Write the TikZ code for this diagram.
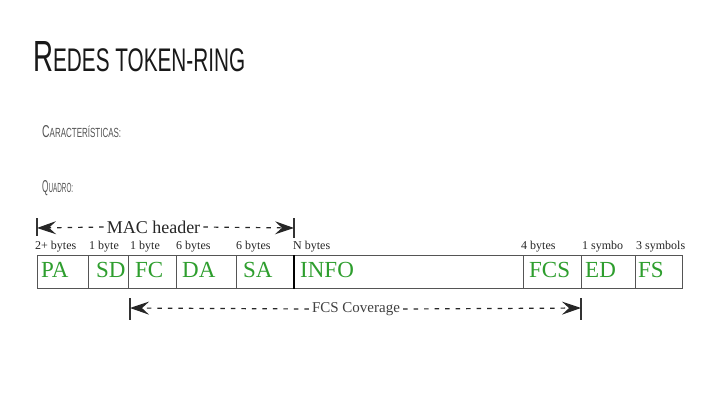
\documentclass[tikz,border=0pt]{standalone}
\usepackage{fontspec}
\usepackage{graphicx}
\usetikzlibrary{arrows.meta}
\setmainfont{Liberation Serif}
\newfontfamily\titlefont{Liberation Sans}
\definecolor{lblgreen}{HTML}{2E9E2E}
\definecolor{boxgray}{HTML}{555555}
\definecolor{subgray}{HTML}{555555}
\tikzset{
  field/.style={draw=boxgray, line width=0.9pt, minimum height=33pt, inner sep=0pt, anchor=north west},
  lbl/.style={text=lblgreen, font=\fontsize{23}{23}\selectfont, inner sep=0pt, anchor=base west},
  bytes/.style={font=\fontsize{12}{12}\selectfont, inner sep=0pt, anchor=base west, text=black!85},
  bar/.style={line width=1.6pt, black!80},
  span/.style={dash pattern=on 4.5pt off 6pt, line width=1.2pt, black!85},
  tip/.style={-{Stealth[length=19pt, width=13pt, inset=7pt]}},
}
\newcommand\fld[5]{%
  \node[field, minimum width={#3pt-#2pt}] (#1) at (#2,255) {};
  \node[lbl] (#1l) at (#2+#4,277) {#5};}
\begin{document}
\begin{tikzpicture}[x=1pt,y=-1pt]
\useasboundingbox[fill=white] (0,0) rectangle (720,405);
% title
\node[anchor=south west, inner sep=0pt, text=black!90] (title) at (33,72)
  {\resizebox{212pt}{30pt}{\titlefont\fontsize{20}{20}\selectfont R\fontsize{15}{15}\selectfont EDES TOKEN-RING}};
\node[anchor=south west, inner sep=0pt, text=subgray] (carac) at (42,138)
  {\resizebox{79pt}{12pt}{\titlefont\fontsize{13}{13}\selectfont C\fontsize{10}{10}\selectfont ARACTERÍSTICAS:}};
\node[anchor=south west, inner sep=0pt, text=subgray] (quadro) at (42,196)
  {\resizebox{31pt}{12pt}{\titlefont\fontsize{13}{13}\selectfont Q\fontsize{10}{10}\selectfont UADRO:}};
% fields
\fld{pa}{37}{88}{4}{PA}
\fld{sd}{88}{128}{8}{SD}
\fld{fc}{128}{176}{7}{FC}
\fld{da}{176}{236}{6}{DA}
\fld{sa}{236}{294}{7}{SA}
\fld{info}{294}{523}{6}{INFO}
\fld{fcs}{523}{581}{6}{FCS}
\fld{ed}{581}{635}{4}{ED}
\fld{fs}{635}{682}{3}{FS}
\draw[line width=1.8pt, black] (info.north west) -- (info.south west);
% byte labels
\node[bytes] (b1) at (35,249) {2+ bytes};
\node[bytes] (b2) at (89,249) {1 byte};
\node[bytes] (b3) at (130,249) {1 byte};
\node[bytes] (b4) at (176,249) {6 bytes};
\node[bytes] (b5) at (236,249) {6 bytes};
\node[bytes] (b6) at (293,249) {N bytes};
\node[bytes] (b7) at (521,249) {4 bytes};
\node[bytes] (b8) at (582,249) {1 symbo};
\node[bytes] (b9) at (636,249) {3 symbols};
% MAC header span
\coordinate (m1a) at (37,218); \coordinate (m1b) at (37,236);
\coordinate (m2a) at (294,218); \coordinate (m2b) at (294,238);
\coordinate (ml) at (37,228); \coordinate (mr) at (294,228);
\draw[bar] (m1a) -- (m1b);
\draw[bar] (m2a) -- (m2b);
\node[font=\fontsize{18}{18}\selectfont, inner sep=3pt, text=black!85] (mac) at (153.5,227) {MAC header};
\draw[span, tip] (mac.west) -- (ml);
\draw[span, tip] (mac.east) -- (mr);
% FCS coverage span
\coordinate (f1a) at (130,298); \coordinate (f1b) at (130,320);
\coordinate (f2a) at (581,298); \coordinate (f2b) at (581,320);
\coordinate (fl) at (130,308); \coordinate (fr) at (581,308);
\draw[bar] (f1a) -- (f1b);
\draw[bar] (f2a) -- (f2b);
\node[font=\fontsize{15}{15}\selectfont, inner sep=3pt, text=black!75] (fcov) at (356,309) {FCS Coverage};
\draw[span, tip] (fcov.west) -- (fl);
\draw[span, tip] (fcov.east) -- (fr);
\end{tikzpicture}
\end{document}
